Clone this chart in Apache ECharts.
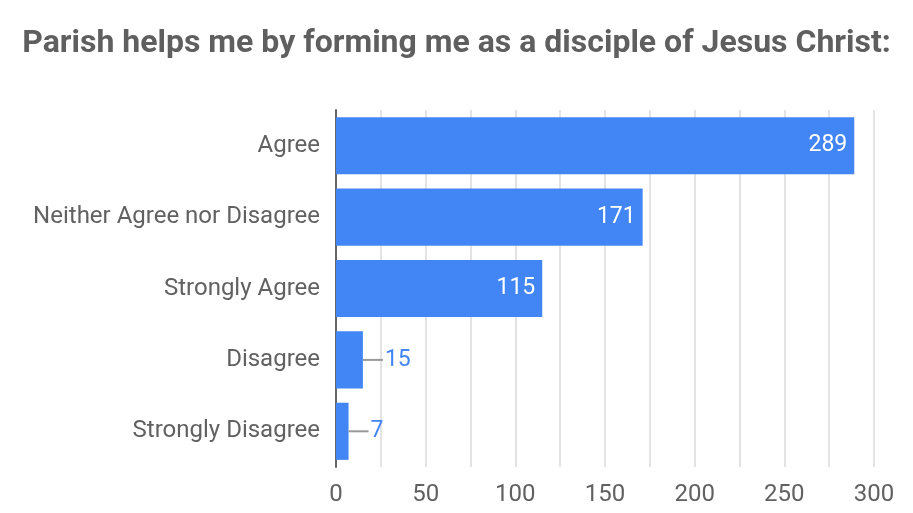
<!DOCTYPE html>
<html><head><meta charset="utf-8">
<script src="https://cdn.jsdelivr.net/npm/echarts@6/dist/echarts.min.js"></script>
<style>html,body{margin:0;padding:0;background:#fff}#c{width:913px;height:513px}</style>
</head><body><div id="c"></div>
<script>
const categories = ['Agree', 'Neither Agree nor Disagree', 'Strongly Agree', 'Disagree', 'Strongly Disagree'];
const values = [289, 171, 115, 15, 7];
const xTicks = [0, 50, 100, 150, 200, 250, 300];
const titleText = 'Parish helps me by forming me as a disciple of Jesus Christ:';

const BLUE = '#4285f4';
const data = values.map(v => {
  const inside = v >= 50;
  return {
    value: v,
    label: inside ? {
      position: 'insideRight', color: '#fff', distance: 7,
      formatter: '{v|{c}}'
    } : {
      position: 'right', distance: 0, color: BLUE,
      formatter: '{ln|}{g|}{v|{c}}'
    }
  };
});

const chart = echarts.init(document.getElementById('c'), null, {renderer: 'canvas'});
chart.setOption({
  animation: false,
  title: {
    text: titleText, left: 'center', top: 23,
    textStyle: {fontFamily: 'Roboto', fontWeight: 'bold', fontSize: 32, color: '#5f5f5f'}
  },
  grid: {left: 336, right: 39, top: 110, bottom: 46, containLabel: false},
  xAxis: {
    type: 'value', min: 0, max: 300, interval: 50,
    axisLine: {show: false}, axisTick: {show: false},
    splitLine: {show: true, lineStyle: {color: '#e3e3e3', width: 2}},
    minorTick: {show: false, splitNumber: 2},
    minorSplitLine: {show: true, lineStyle: {color: '#e3e3e3', width: 2}},
    axisLabel: {
      fontFamily: 'Roboto', fontSize: 24, color: '#616161', margin: 16,
      customValues: xTicks
    }
  },
  yAxis: {
    type: 'category', data: categories, inverse: true,
    axisLine: {show: true, lineStyle: {color: '#666', width: 2}},
    axisTick: {show: false},
    axisLabel: {fontFamily: 'Roboto', fontSize: 24, color: '#616161', margin: 16}
  },
  series: [{
    type: 'bar', data: data, barCategoryGap: '20%',
    itemStyle: {color: BLUE},
    label: {
      show: true, fontFamily: 'Roboto', fontSize: 23,
      rich: {
        v: {fontFamily: 'Roboto', fontSize: 23},
        ln: {width: 20, height: 2, backgroundColor: '#999', verticalAlign: 'middle'},
        g: {width: 2}
      }
    }
  }]
});
</script></body></html>
